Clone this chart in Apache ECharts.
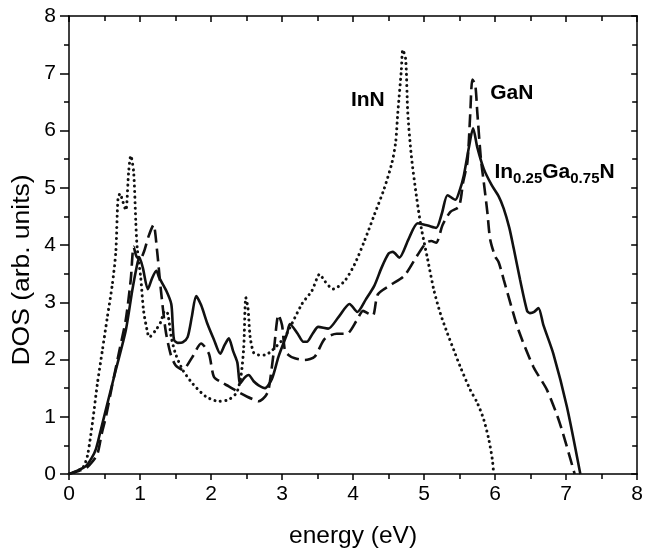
<!DOCTYPE html>
<html><head><meta charset="utf-8">
<script src="https://cdn.jsdelivr.net/npm/echarts@6/dist/echarts.min.js"></script>
<style>html,body{margin:0;padding:0;background:#fff}#c{width:646px;height:554px}</style>
</head><body><div id="c"></div>
<script>
// ---- data (energy in eV, DOS in arb. units) ----
const inganX = [0,0.1,0.24,0.32,0.38,0.45,0.52,0.66,0.80,0.89,0.95,0.99,1.04,1.11,1.17,1.23,1.27,1.37,1.44,1.46,1.48,1.53,1.60,1.67,1.73,1.79,1.86,1.95,2.04,2.13,2.19,2.25,2.31,2.37,2.41,2.47,2.53,2.60,2.67,2.76,2.86,2.95,3.07,3.11,3.22,3.30,3.35,3.43,3.51,3.65,3.80,3.95,4.06,4.18,4.30,4.40,4.50,4.56,4.65,4.78,4.91,5.05,5.17,5.25,5.33,5.44,5.50,5.56,5.63,5.69,5.75,5.84,5.95,6.05,6.12,6.20,6.26,6.35,6.45,6.49,6.55,6.61,6.68,6.82,7.01,7.20];
const inganY = [0,0.05,0.14,0.28,0.44,0.78,1.13,1.82,2.51,3.20,3.60,3.79,3.60,3.23,3.42,3.55,3.43,3.20,2.97,2.62,2.34,2.29,2.30,2.39,2.75,3.11,2.95,2.62,2.35,2.10,2.25,2.37,2.15,1.95,1.58,1.68,1.73,1.62,1.55,1.50,1.67,2.05,2.45,2.62,2.45,2.31,2.31,2.45,2.57,2.54,2.75,2.97,2.83,3.05,3.29,3.60,3.85,3.88,3.78,4.10,4.38,4.34,4.30,4.55,4.87,4.79,4.95,5.22,5.70,6.04,5.70,5.33,5.05,4.85,4.64,4.30,3.95,3.40,2.85,2.81,2.83,2.90,2.60,2.10,1.18,0];

const ganX = [0,0.1,0.24,0.32,0.40,0.46,0.52,0.60,0.70,0.80,0.87,0.91,0.95,1.00,1.06,1.12,1.19,1.24,1.29,1.36,1.43,1.50,1.60,1.74,1.86,1.97,2.04,2.15,2.25,2.40,2.51,2.60,2.67,2.76,2.81,2.88,2.95,3.00,3.04,3.09,3.18,3.32,3.46,3.60,3.77,3.91,4.05,4.14,4.22,4.28,4.35,4.54,4.72,4.91,5.03,5.10,5.17,5.26,5.37,5.49,5.55,5.61,5.65,5.68,5.72,5.75,5.80,5.84,5.89,5.93,6.00,6.05,6.12,6.20,6.33,6.54,6.73,6.91,7.12];
const ganY = [0,0.04,0.10,0.20,0.35,0.70,1.00,1.50,2.10,2.70,3.40,3.97,3.80,3.75,3.90,4.15,4.35,3.90,3.26,2.51,2.10,1.90,1.82,2.05,2.28,2.10,1.70,1.60,1.53,1.42,1.35,1.30,1.27,1.35,1.47,2.10,2.78,2.60,2.16,2.08,2.02,1.99,2.05,2.36,2.45,2.45,2.68,2.85,2.80,2.77,3.14,3.31,3.46,3.83,4.04,4.07,4.04,4.35,4.58,4.67,5.10,5.45,6.30,6.89,6.80,6.30,5.50,5.10,4.58,4.10,3.80,3.70,3.40,3.05,2.51,1.87,1.47,0.89,0];

const innX = [0,0.1,0.2,0.26,0.33,0.40,0.47,0.54,0.61,0.66,0.69,0.72,0.75,0.80,0.84,0.87,0.91,0.94,0.96,1.01,1.05,1.10,1.13,1.22,1.29,1.35,1.39,1.44,1.50,1.60,1.74,1.93,2.11,2.25,2.36,2.42,2.46,2.49,2.52,2.55,2.60,2.67,2.76,2.86,3.04,3.28,3.42,3.53,3.60,3.72,3.88,4.02,4.16,4.30,4.44,4.55,4.60,4.63,4.68,4.70,4.74,4.77,4.82,4.89,4.96,5.05,5.14,5.23,5.33,5.42,5.51,5.65,5.75,5.84,5.91,5.96,5.98];
const innY = [0,0.04,0.12,0.32,0.89,1.58,2.16,2.74,3.31,3.89,4.81,4.90,4.79,4.61,5.28,5.56,5.28,4.41,3.95,3.43,2.85,2.51,2.39,2.51,2.65,2.85,2.80,2.39,2.10,1.82,1.58,1.35,1.27,1.30,1.42,1.70,2.20,3.08,2.90,2.40,2.12,2.08,2.08,2.16,2.40,2.97,3.20,3.49,3.37,3.23,3.37,3.66,4.07,4.53,4.99,5.45,5.80,6.31,7.06,7.41,7.25,6.31,5.56,4.87,4.30,3.75,3.20,2.80,2.45,2.16,1.87,1.47,1.24,0.95,0.61,0.26,0];

const xTickValues = [0,1,2,3,4,5,6,7,8];
const yTickValues = [0,1,2,3,4,5,6,7,8];
const xTitle = 'energy (eV)';
const yTitle = 'DOS (arb. units)';

// annotation texts and their anchor (left edge, vertical middle) in data units
const labelTexts = ['{b|InN}', '{b|GaN}', '{b|In}{s|0.25}{b|Ga}{s|0.75}{b|N}'];
const labelX = [3.97, 5.93, 5.99];
const labelY = [6.50, 6.62, 5.24];

function pairs(xs, ys) { return xs.map((x, i) => [x, ys[i]]); }

const FONT = '"Liberation Sans", Arial, Helvetica, sans-serif';
const axisCommon = {
  type: 'value', min: xTickValues[0], max: xTickValues[xTickValues.length - 1], interval: 1,
  axisLine: { show: true, onZero: false, lineStyle: { color: '#000', width: 1.5 } },
  splitLine: { show: false },
  minorTick: { show: true, splitNumber: 2, length: 5, lineStyle: { color: '#000', width: 1.5 } },
};

const chart = echarts.init(document.getElementById('c'), null, { renderer: 'canvas' });
chart.setOption({
  animation: false,
  backgroundColor: '#fff',
  grid: { left: 69, right: 5, top: 16, bottom: 76, containLabel: false },
  xAxis: [
    Object.assign({}, axisCommon, {
      position: 'bottom',
      name: xTitle, nameLocation: 'middle', nameGap: 50,
      nameTextStyle: { fontFamily: FONT, fontSize: 24.5, color: '#000' },
      axisTick: { show: true, inside: false, length: 6, lineStyle: { color: '#000', width: 1.5 } },
      axisLabel: { show: true, margin: 10, fontFamily: FONT, fontSize: 21, color: '#000' }
    }),
    Object.assign({}, axisCommon, {
      position: 'top',
      axisTick: { show: true, inside: true, length: 6, lineStyle: { color: '#000', width: 1.5 } },
      axisLabel: { show: false }
    })
  ],
  yAxis: [
    Object.assign({}, axisCommon, {
      min: yTickValues[0], max: yTickValues[yTickValues.length - 1],
      position: 'left',
      axisTick: { show: true, inside: false, length: 9, lineStyle: { color: '#000', width: 1.5 } },
      axisLabel: { show: true, margin: 13, fontFamily: FONT, fontSize: 21, color: '#000' }
    }),
    Object.assign({}, axisCommon, {
      min: yTickValues[0], max: yTickValues[yTickValues.length - 1],
      position: 'right',
      axisTick: { show: true, inside: true, length: 6, lineStyle: { color: '#000', width: 1.5 } },
      axisLabel: { show: false }
    })
  ],
  graphic: [{
    type: 'text', x: 23, y: 270, rotation: Math.PI / 2, scaleX: 1.15,
    style: { text: yTitle, font: '23px "Liberation Sans", Arial, sans-serif', fill: '#000',
      align: 'center', verticalAlign: 'middle', textAlign: 'center', textVerticalAlign: 'middle' }
  }],
  series: [
    {
      name: 'InN', type: 'line', data: pairs(innX, innY), showSymbol: false, smooth: 0.25,
      lineStyle: { color: '#111', width: 3, type: [0.1, 5.4], cap: 'round' }, z: 3
    },
    {
      name: 'GaN', type: 'line', data: pairs(ganX, ganY), showSymbol: false, smooth: 0.25,
      lineStyle: { color: '#111', width: 2.6, type: [13, 6] }, z: 4
    },
    {
      name: 'In0.25Ga0.75N', type: 'line', data: pairs(inganX, inganY), showSymbol: false, smooth: 0.25,
      lineStyle: { color: '#111', width: 2.6, type: 'solid' }, z: 5
    },
    {
      name: 'labels', type: 'scatter', symbolSize: 0, z: 10, silent: true,
      itemStyle: { opacity: 1, color: '#000' },
      data: labelTexts.map((t, i) => ({ value: [labelX[i], labelY[i]], text: t })),
      label: {
        show: true, position: 'right', distance: 0, color: '#000', opacity: 1,
        textBorderWidth: 0, fontWeight: 'bold',
        formatter: p => p.data.text,
        rich: {
          b: { fontFamily: FONT, fontSize: 21, fontWeight: 'bold', color: '#000', verticalAlign: 'top', lineHeight: 24 },
          s: { fontFamily: FONT, fontSize: 15, fontWeight: 'bold', color: '#000', verticalAlign: 'bottom', lineHeight: 15, padding: [12, 0, 0, 0] }
        }
      }
    }
  ]
});
</script></body></html>
